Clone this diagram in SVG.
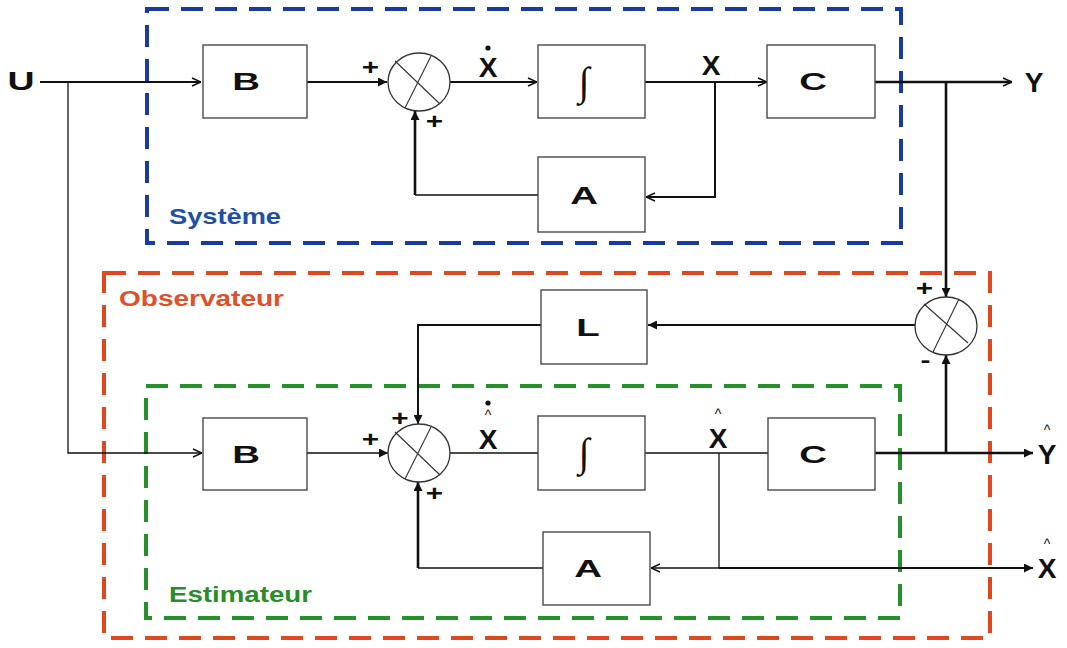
<svg xmlns="http://www.w3.org/2000/svg" width="1067" height="648" viewBox="0 0 1067 648">
<defs>
<style>
.blk{fill:#fff;stroke:#4a4a4a;stroke-width:1.4}
.sum{fill:#fff;stroke:#333;stroke-width:1.3}
.cross{stroke:#333;stroke-width:1.1;fill:none}
.w{fill:none;stroke:#111;stroke-linecap:butt}
.t1{stroke-width:1.3}
.t2{stroke-width:2}
.t3{stroke-width:2.6}
.lab{font-family:"Liberation Sans",Arial,sans-serif;font-weight:bold;fill:#111;text-anchor:middle}
.big{font-size:24px}
.var{font-size:28px}
.sgn{font-size:22px}
.hat{font-family:"Liberation Sans",Arial,sans-serif;font-size:14px;fill:#111;text-anchor:middle}
.int{font-family:"Liberation Serif","Times New Roman",serif;font-style:italic;font-size:40px;fill:#111;text-anchor:middle}
.frame{fill:none;stroke-width:4;stroke-dasharray:22 12}
.ttl{font-family:"Liberation Sans",Arial,sans-serif;font-weight:bold;font-size:22px}
</style>
<marker id="op" viewBox="0 0 10 10" refX="10" refY="5" markerWidth="10" markerHeight="10" markerUnits="userSpaceOnUse" orient="auto"><path d="M1,1 L10,5 L1,9" fill="none" stroke="#111" stroke-width="1.5"/></marker>
<marker id="fl" viewBox="0 0 10 10" refX="10" refY="5" markerWidth="10" markerHeight="9" markerUnits="userSpaceOnUse" orient="auto"><path d="M0,0 L10,5 L0,10 z" fill="#111"/></marker>
</defs>
<rect width="1067" height="648" fill="#fff"/>

<g id="frames">
<path class="frame" stroke="#1a3b9e" d="M147,9 H901 V243 H147 Z"/>
<path class="frame" stroke="#e2481e" d="M104,273 H990 V638 H104 Z"/>
<path class="frame" stroke="#26902a" d="M146,386 H900 V618 H146 Z"/>
<text class="ttl" x="169" y="224" fill="#2050a4" textLength="112" lengthAdjust="spacingAndGlyphs">Système</text>
<text class="ttl" x="119" y="306" fill="#e0502a" textLength="165" lengthAdjust="spacingAndGlyphs">Observateur</text>
<text class="ttl" x="169" y="602" fill="#2a8c2a" textLength="143" lengthAdjust="spacingAndGlyphs">Estimateur</text>
</g>

<g id="connectors">
<path class="w t2" d="M40,82 H201" marker-end="url(#op)"/>
<path class="w t1" d="M68,82 V453 H202" marker-end="url(#op)"/>
<path class="w t2" d="M307,82 H387" marker-end="url(#fl)"/>
<path class="w t2" d="M450,82 H537" marker-end="url(#op)"/>
<path class="w t2" d="M645,82 H767" marker-end="url(#op)"/>
<path class="w t2" d="M715,82 V197 H646" marker-end="url(#op)"/>
<path class="w t1" d="M538,195 H415"/>
<path class="w t3" d="M415,195 V111" marker-end="url(#fl)"/>
<path class="w t3" d="M875,82 H1012" marker-end="url(#op)"/>
<path class="w t3" d="M946,82 V297" marker-end="url(#fl)"/>
<path class="w t2" d="M915,325 H648" marker-end="url(#fl)"/>
<path class="w t2" d="M541,325 H418 V424" marker-end="url(#fl)"/>
<path class="w t1" d="M307,453 H388" marker-end="url(#fl)"/>
<path class="w t1" d="M450,453 H538"/>
<path class="w t1" d="M645,453 H768"/>
<path class="w t3" d="M875,453 H1033" marker-end="url(#fl)"/>
<path class="w t3" d="M946,453 V355" marker-end="url(#fl)"/>
<path class="w t1" d="M719,453 V568"/>
<path class="w t2" d="M719,568 H1033" marker-end="url(#fl)"/>
<path class="w t1" d="M719,568 H651" marker-end="url(#op)"/>
<path class="w t1" d="M543,568 H418"/>
<path class="w t3" d="M418,568 V482" marker-end="url(#fl)"/>
</g>

<g id="U"><text class="lab" transform="translate(21,90) scale(1.5,1)" font-size="25">U</text></g>
<g id="Y"><text class="lab var" x="1034" y="92">Y</text></g>

<g id="B1"><rect class="blk" x="203" y="45" width="104" height="73"/><text class="lab big" transform="translate(246,90) scale(1.6,1)">B</text></g>
<g id="S1">
<ellipse class="sum" cx="419" cy="82" rx="31" ry="29"/>
<path class="cross" d="M395,61 L440,104 M431,56 L405,108"/>
<text class="lab sgn" transform="translate(370.5,75) scale(1.35,1)">+</text>
<text class="lab sgn" transform="translate(434.5,129) scale(1.35,1)">+</text>
</g>
<g id="Xdot"><text class="lab var" x="488" y="77">X</text><circle cx="488" cy="48" r="2.6" fill="#111"/></g>
<g id="I1"><rect class="blk" x="538" y="45" width="107" height="73"/><text class="int" x="584" y="95">∫</text></g>
<g id="X1"><text class="lab var" x="711" y="75">X</text></g>
<g id="C1"><rect class="blk" x="767" y="45" width="108" height="73"/><text class="lab big" transform="translate(813,90) scale(1.6,1)">C</text></g>
<g id="A1"><rect class="blk" x="538" y="157" width="107" height="75"/><text class="lab big" transform="translate(584,204) scale(1.6,1)">A</text></g>

<g id="S2">
<ellipse class="sum" cx="946" cy="326" rx="31" ry="29"/>
<path class="cross" d="M924,304 L968,343 M959,299 L933,352"/>
<text class="lab sgn" transform="translate(924.5,295.5) scale(1.35,1)">+</text>
<text class="lab sgn" transform="translate(925.5,367) scale(1.35,1)">-</text>
</g>
<g id="L"><rect class="blk" x="541" y="290" width="106" height="74"/><text class="lab big" transform="translate(588,336) scale(1.6,1)">L</text></g>

<g id="B2"><rect class="blk" x="203" y="418" width="104" height="72"/><text class="lab big" transform="translate(246,463) scale(1.6,1)">B</text></g>
<g id="S3">
<ellipse class="sum" cx="419" cy="453" rx="31" ry="29"/>
<path class="cross" d="M395,432 L440,475 M431,427 L405,479"/>
<text class="lab sgn" transform="translate(400,426) scale(1.35,1)">+</text>
<text class="lab sgn" transform="translate(370.5,447) scale(1.35,1)">+</text>
<text class="lab sgn" transform="translate(434.5,501) scale(1.35,1)">+</text>
</g>
<g id="Xhatdot"><text class="lab var" x="488" y="449">X</text><text class="hat" x="488" y="420">^</text><circle cx="488" cy="403" r="2.6" fill="#111"/></g>
<g id="I2"><rect class="blk" x="538" y="416" width="107" height="74"/><text class="int" x="584" y="466">∫</text></g>
<g id="Xhat1"><text class="lab var" x="718" y="448">X</text><text class="hat" x="718" y="419">^</text></g>
<g id="C2"><rect class="blk" x="768" y="418" width="107" height="72"/><text class="lab big" transform="translate(813,463) scale(1.6,1)">C</text></g>
<g id="A2"><rect class="blk" x="543" y="532" width="107" height="73"/><text class="lab big" transform="translate(588,577) scale(1.6,1)">A</text></g>
<g id="Yhat"><text class="lab var" x="1047" y="464">Y</text><text class="hat" x="1047" y="435">^</text></g>
<g id="Xhat2"><text class="lab var" x="1047" y="578">X</text><text class="hat" x="1047" y="549">^</text></g>
</svg>
